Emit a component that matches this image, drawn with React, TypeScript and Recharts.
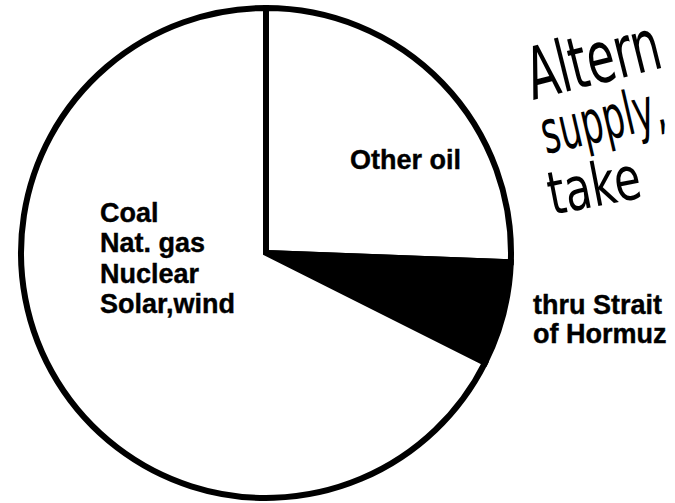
import React from 'react'
import { PieChart, Pie, Cell } from 'recharts'

// share of world energy supply (percent)
const sources = ['Other oil', 'thru Strait of Hormuz', 'Coal, Nat. gas, Nuclear, Solar, wind']
const shares = [25.6, 6.8, 67.6]
const fills = ['#ffffff', '#000000', '#ffffff']

const restLines = ['Coal', 'Nat. gas', 'Nuclear', 'Solar,wind']
const hormuzLines = ['thru Strait', 'of Hormuz']
// handwritten note, only the part visible in the scan
const noteLines = ['Altern', 'supply,', 'take']

const W = 675
const H = 503
const labelFont = '"Liberation Sans", Arial, Helvetica, sans-serif'
const handFont = '"DejaVu Sans", sans-serif'

const data = sources.map((name, i) => ({ name, value: shares[i] }))

export default function App() {
  return (
    <div style={{ position: 'relative', width: W, height: H, overflow: 'hidden', background: '#fff' }}>
      <style>{'body{margin:0;background:#fff}'}</style>
      <PieChart width={W} height={H} margin={{ top: 0, right: 0, bottom: 0, left: 0 }}>
        <Pie
          data={data}
          dataKey="value"
          nameKey="name"
          cx={266}
          cy={253}
          innerRadius={0}
          outerRadius={245}
          startAngle={90}
          endAngle={-270}
          stroke="#000"
          strokeWidth={6}
          isAnimationActive={false}
          labelLine={false}
        >
          {data.map((d, i) => (
            <Cell key={d.name} fill={fills[i]} stroke="#000" strokeWidth={6} />
          ))}
        </Pie>
      </PieChart>

      <svg
        width={W}
        height={H}
        style={{ position: 'absolute', left: 0, top: 0, pointerEvents: 'none' }}
      >
        <g fontFamily={labelFont} fontWeight={700} fontSize={27} fill="#000" stroke="#000" strokeWidth={0.4}>
          <text x={350} y={169}>Other oil</text>
          {restLines.map((t, i) => (
            <text key={t} x={100} y={222 + i * 30.3}>{t}</text>
          ))}
          {hormuzLines.map((t, i) => (
            <text key={t} x={533} y={314 + i * 29}>{t}</text>
          ))}
        </g>

        <g fontFamily={handFont} fill="#000">
          <text transform="translate(533,100) rotate(-14) scale(0.63,1)" fontSize={72}>
            {noteLines[0]}
          </text>
          <text transform="translate(546,154) rotate(-13) scale(0.58,1)" fontSize={60}>
            {noteLines[1]}
          </text>
          <text transform="translate(552,215) rotate(-11) scale(0.72,1)" fontSize={60}>
            {noteLines[2]}
          </text>
        </g>
      </svg>
    </div>
  )
}
